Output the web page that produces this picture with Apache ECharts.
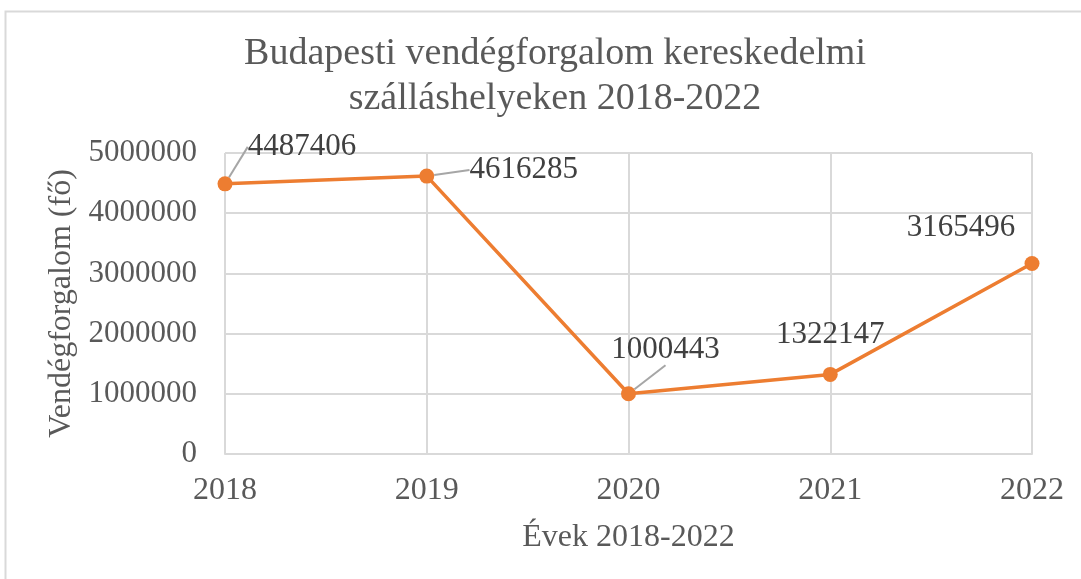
<!DOCTYPE html>
<html>
<head>
    <meta charset="utf-8">
    <title>Budapesti vendégforgalom</title>
    <script src="https://cdn.jsdelivr.net/npm/echarts@6/dist/echarts.min.js"></script>
    <style>
        html, body {margin:0;padding:0;background:#fff;}
        #chart {width:1081px;height:579px;}
    </style>
</head>
<body>
<div id="chart"></div>
<script>
    // adatok
    var years = ['2018', '2019', '2020', '2021', '2022'];
    var guests = [4487406, 4616285, 1000443, 1322147, 3165496];
    // melyik címkének van vezetővonala
    var hasLeader = [true, true, true, false, false];
    // címke eltolások (dx, dy) az alapértelmezett helyhez képest
    var labelShift = [[77, -9], [97, 22], [37, -16], [0, -12], [-71, -8]];

    var serif = '"Liberation Serif", "Times New Roman", serif';
    var chart = echarts.init(document.getElementById('chart'));

    var option = {
        backgroundColor: '#fff',
        textStyle: {fontFamily: serif},
        title: {
            text: 'Budapesti vendégforgalom kereskedelmi\nszálláshelyeken 2018-2022',
            left: 550,
            top: 27,
            textAlign: 'center',
            textStyle: {
                fontFamily: serif,
                fontSize: 38,
                fontWeight: 'normal',
                color: '#595959',
                lineHeight: 45
            }
        },
        graphic: [{
            type: 'rect',
            left: 3,
            top: 9,
            shape: {width: 1200, height: 700},
            style: {fill: 'none', stroke: '#d9d9d9', lineWidth: 2},
            silent: true
        }],
        grid: {left: 225, right: 49, top: 153, bottom: 125},
        xAxis: {
            type: 'category',
            data: years,
            boundaryGap: false,
            name: 'Évek 2018-2022',
            nameLocation: 'middle',
            nameGap: 68,
            nameTextStyle: {fontFamily: serif, fontSize: 32, color: '#595959'},
            axisLine: {lineStyle: {color: '#d9d9d9', width: 2}},
            axisTick: {show: false},
            axisLabel: {fontFamily: serif, fontSize: 32, color: '#595959', margin: 21},
            splitLine: {show: true, lineStyle: {color: '#d9d9d9', width: 2}}
        },
        yAxis: {
            type: 'value',
            min: 0,
            max: 5000000,
            interval: 1000000,
            name: 'Vendégforgalom (fő)',
            nameLocation: 'middle',
            nameGap: 145,
            nameTextStyle: {fontFamily: serif, fontSize: 32, color: '#595959'},
            axisLine: {show: false},
            axisTick: {show: false},
            axisLabel: {
                fontFamily: serif, fontSize: 31, color: '#595959', margin: 28,
                formatter: function (v) { return String(v); }
            },
            splitLine: {lineStyle: {color: '#d9d9d9', width: 2}}
        },
        series: [{
            type: 'line',
            data: guests.map(function (v, i) {
                return {value: v, labelLine: {show: hasLeader[i]}};
            }),
            color: '#ed7d31',
            lineStyle: {width: 3.5, color: '#ed7d31'},
            symbol: 'circle',
            symbolSize: 15,
            itemStyle: {color: '#ed7d31'},
            label: {
                show: true,
                position: 'top',
                fontFamily: serif,
                fontSize: 31,
                color: '#404040',
                formatter: function (p) { return String(p.value); }
            },
            labelLine: {show: true, lineStyle: {color: '#a6a6a6', width: 2}},
            labelLayout: function (params) {
                var s = labelShift[params.dataIndex];
                return {dx: s[0], dy: s[1]};
            },
            animation: false
        }]
    };
    chart.setOption(option);
</script>
</body>
</html>
